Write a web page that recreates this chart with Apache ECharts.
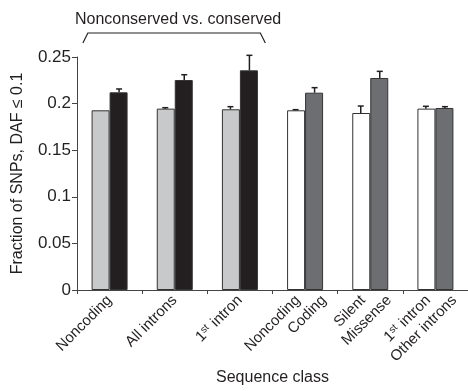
<!DOCTYPE html>
<html><head><meta charset="utf-8">
<script src="https://cdn.jsdelivr.net/npm/echarts@6/dist/echarts.min.js"></script>
<style>html,body{margin:0;padding:0;background:#fff}#c{width:468px;height:391px}</style>
</head><body><div id="c"></div>
<script>
// ---- data ----
const groupLabels = ['Noncoding', 'All introns', '1st intron', '', '', ''];
// per-bar labels for the last three groups: [group index, left-bar label, right-bar label]
const pairLabels = [[3, 'Noncoding', 'Coding'], [4, 'Silent', 'Missense'], [5, '1st intron', 'Other introns']];
const yTicks = [0, 0.05, 0.1, 0.15, 0.2, 0.25];
const leftValues  = [0.1928, 0.1946, 0.1939, 0.1928, 0.1899, 0.1946];
const leftErrors  = [0.0000, 0.0010, 0.0028, 0.0007, 0.0075, 0.0025];
const rightValues = [0.2121, 0.2253, 0.2357, 0.2117, 0.2275, 0.1953];
const rightErrors = [0.0036, 0.0057, 0.0161, 0.0054, 0.0071, 0.0014];
const bracketText = 'Nonconserved vs. conserved';
const xName = 'Sequence class';
const yName = 'Fraction of SNPs, DAF \u2264 0.1';

// ---- style ----
const FONT = '"Liberation Sans", Arial, Helvetica, sans-serif';
const INK = '#231f20';
const leftColors = ['#c8c9cb', '#c8c9cb', '#c8c9cb', '#ffffff', '#ffffff', '#ffffff'];
const rightColors = ['#231f20', '#231f20', '#231f20', '#6d6e71', '#6d6e71', '#6d6e71'];
const BAR_W = 18;
const LABEL_SHIFT = [-0.11, 0.29]; // label anchor offsets (fraction of a group band) for left/right bar labels

const chart = echarts.init(document.getElementById('c'), null, {renderer: 'canvas'});

const labelFmt = v => v === '1st intron' ? '1{sup|st} intron' : v;
const rich = {sup: {fontSize: 10, fontFamily: FONT, color: INK, verticalAlign: 'top', padding: [0, 1, 6, 0]}};

// label anchor positions on a 0..6 value scale matching the category bands
const pairPos = [], pairText = {};
pairLabels.forEach(([g, a, b]) => {
  const pa = g + 0.5 + LABEL_SHIFT[0], pb = g + 0.5 + LABEL_SHIFT[1];
  pairPos.push(pa, pb);
  pairText[pa.toFixed(3)] = a;
  pairText[pb.toFixed(3)] = b;
});

function errSeries(values, errors, side) {
  return {
    type: 'custom',
    xAxisIndex: 0,
    z: 5,
    silent: true,
    data: values.map((v, i) => [i, v, v + errors[i]]),
    encode: {x: 0, y: [1, 2]},
    renderItem: function (params, api) {
      const b = api.coord([api.value(0), api.value(1)]);
      const t = api.coord([api.value(0), api.value(2)]);
      if (b[1] - t[1] < 0.5) return null;
      const x = b[0] + side * (BAR_W / 2 + 0.5);
      const st = {stroke: INK, lineWidth: 1.5};
      return {
        type: 'group',
        children: [
          {type: 'line', shape: {x1: x, y1: b[1], x2: x, y2: t[1]}, style: st},
          {type: 'line', shape: {x1: x - 3, y1: t[1], x2: x + 3, y2: t[1]}, style: st}
        ]
      };
    }
  };
}

const labelStyle = {rotate: 45, margin: 8, fontSize: 15, fontFamily: FONT, color: INK, rich: rich};

const option = {
  animation: false,
  backgroundColor: '#fff',
  grid: {left: 77, top: 57, width: 396, height: 233, containLabel: false},
  xAxis: [{
    type: 'category',
    data: groupLabels,
    axisLine: {show: true, lineStyle: {color: '#444', width: 1}},
    axisTick: {show: true, length: 4, lineStyle: {color: '#444'}},
    axisLabel: Object.assign({interval: 0, formatter: labelFmt}, labelStyle),
    name: xName, nameLocation: 'middle', nameGap: 80,
    nameTextStyle: {fontSize: 16, fontFamily: FONT, color: INK}
  }, {
    type: 'value',
    min: 0, max: groupLabels.length,
    position: 'bottom',
    axisLine: {show: false},
    axisTick: {show: false},
    splitLine: {show: false},
    axisLabel: Object.assign({
      customValues: pairPos,
      showMinLabel: true, showMaxLabel: true,
      formatter: v => labelFmt(pairText[Number(v).toFixed(3)] || '')
    }, labelStyle)
  }],
  yAxis: {
    type: 'value',
    min: yTicks[0], max: yTicks[yTicks.length - 1], interval: yTicks[1] - yTicks[0],
    axisLine: {show: true, lineStyle: {color: '#444', width: 1}},
    axisTick: {show: true, length: 5, lineStyle: {color: '#444'}},
    splitLine: {show: false},
    axisLabel: {fontSize: 17, fontFamily: FONT, color: INK, margin: 6},
    name: yName, nameLocation: 'middle', nameGap: 51,
    nameTextStyle: {fontSize: 16, fontFamily: FONT, color: INK}
  },
  series: [{
    type: 'bar', xAxisIndex: 0, data: leftValues, barWidth: BAR_W, barGap: '0%',
    itemStyle: {color: p => leftColors[p.dataIndex], borderColor: '#333', borderWidth: 1}
  }, {
    type: 'bar', xAxisIndex: 0, data: rightValues, barWidth: BAR_W, barGap: '0%',
    itemStyle: {color: p => rightColors[p.dataIndex], borderColor: '#333', borderWidth: 1}
  },
  errSeries(leftValues, leftErrors, -1),
  errSeries(rightValues, rightErrors, 1)]
};
chart.setOption(option);

// bracket annotation spanning the first three groups
const c0 = chart.convertToPixel({xAxisIndex: 0}, 0);
const c1 = chart.convertToPixel({xAxisIndex: 0}, 1);
const c2 = chart.convertToPixel({xAxisIndex: 0}, 2);
const band = c1 - c0;
const xl = c0 - band * 0.41, xr = c2 + band * 0.39;
const yTop = 33, yFoot = 43;
chart.setOption({
  graphic: [
    {type: 'polyline', shape: {points: [[xl, yFoot], [xl + 5, yTop], [xr - 5, yTop], [xr, yFoot]]},
      style: {stroke: INK, lineWidth: 1.2, fill: null}},
    {type: 'text', x: (xl + xr) / 2 + 4, y: 20,
      style: {text: bracketText, fontSize: 16, fontFamily: FONT, fill: INK, align: 'center', verticalAlign: 'middle'}}
  ]
});
</script></body></html>
